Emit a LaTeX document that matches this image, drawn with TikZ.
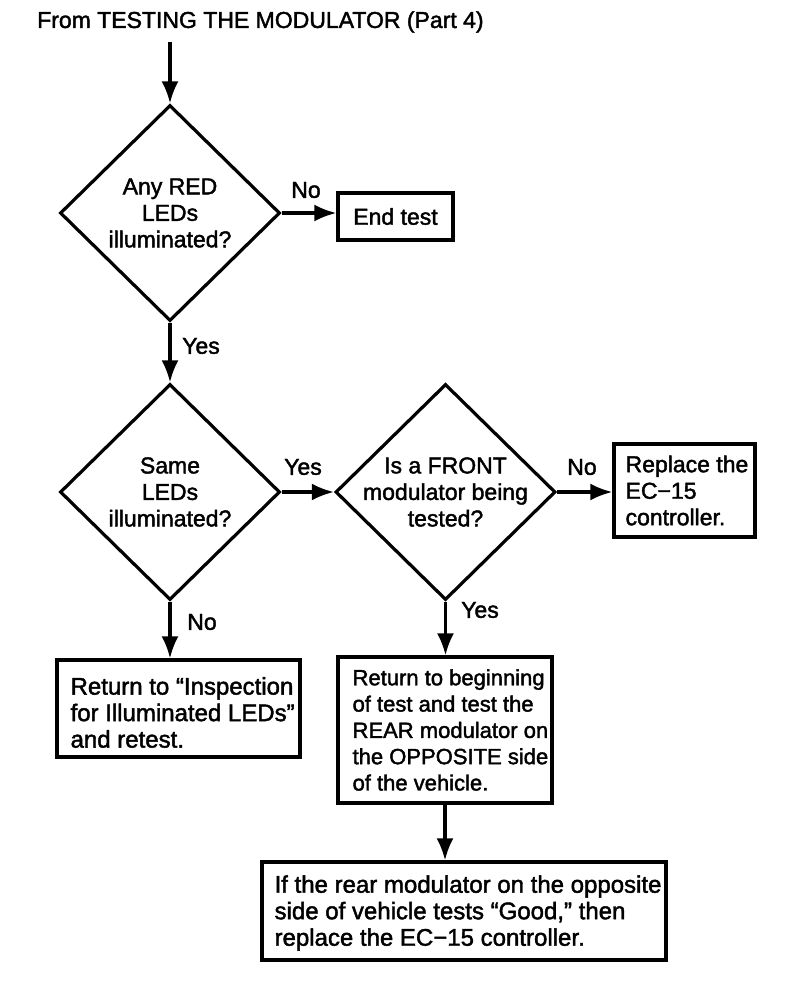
\documentclass[tikz,border=0pt]{standalone}
\usepackage{fontspec}
\setmainfont{Liberation Sans}[FakeBold=1.8]
\usetikzlibrary{shapes.geometric,arrows.meta}
\begin{document}
\begin{tikzpicture}[x=1pt,y=-1pt,
  every node/.style={font=\fontsize{23}{26.5}\selectfont},
  dia/.style={diamond, draw, line width=3.2pt, minimum width=220pt, minimum height=216pt, inner sep=0pt},
  box/.style={rectangle, draw, line width=3.2pt, inner sep=0pt},
  txt/.style={align=center, inner sep=0pt},
  ltxt/.style={align=left, inner sep=0pt, anchor=west},
  arr/.style={line width=3.2pt, -{Latex[length=22pt,width=17pt]}},
  lbl/.style={inner sep=0pt}]
\useasboundingbox (0,0) rectangle (800,1005);

\node[lbl, anchor=west] (title) at (37,22) {From TESTING THE MODULATOR (Part 4)};
\coordinate (start) at (170,42);

% diamonds
\node[dia] (d1) at (170,213) {};
\node[txt] (t1) at (d1.center) {Any RED\\LEDs\\illuminated?};
\node[dia] (d2) at (170,492) {};
\node[txt] (t2) at (d2.center) {Same\\LEDs\\illuminated?};
\node[dia] (d3) at (445.5,492) {};
\node[txt] (t3) at (d3.center) {Is a FRONT\\modulator being\\tested?};

% boxes
\node[box, minimum width=115pt, minimum height=47pt] (end) at (395.5,216.5) {};
\node[txt] (tend) at (end.center) {End test};
\node[box, minimum width=141pt, minimum height=93pt] (rep) at (684.5,490.5) {};
\node[ltxt] (trep) at ([xshift=13pt]rep.west) {Replace the\\EC−15\\controller.};
\node[box, minimum width=243pt, minimum height=97pt] (ret) at (178.5,708.5) {};
\node[ltxt, font=\fontsize{24}{26.5}\selectfont] (tret) at ([xshift=15pt,yshift=-4pt]ret.west) {Return to “Inspection\\for Illuminated LEDs”\\and retest.};
\node[box, minimum width=214pt, minimum height=146pt] (beg) at (445,730) {};
\node[ltxt, font=\fontsize{22}{26.3}\selectfont] (tbeg) at ([xshift=16pt]beg.west) {Return to beginning\\of test and test the\\REAR modulator on\\the OPPOSITE side\\of the vehicle.};
\node[box, minimum width=404pt, minimum height=98pt] (fin) at (464,911) {};
\node[ltxt, font=\fontsize{24}{26.5}\selectfont] (tfin) at ([xshift=14pt,yshift=-2pt]fin.west) {If the rear modulator on the opposite\\side of vehicle tests “Good,” then\\replace the EC−15 controller.};

% connectors
\draw[arr] (start) -- (d1.north);
\draw[arr] (d1.east) -- (end.west |- d1.east);
\draw[arr] (d1.south) -- (d2.north);
\draw[arr] (d2.east) -- (d3.west);
\draw[arr] (d3.east) -- (rep.west |- d3.east);
\draw[arr] (d2.south) -- (ret.north -| d2.south);
\draw[arr] (d3.south) -- (beg.north -| d3.south);
\draw[arr] (beg.south) -- (fin.north -| beg.south);

% labels
\node[lbl] (l1) at (306,190) {No};
\node[lbl] (l2) at (201,346) {Yes};
\node[lbl] (l3) at (303,467) {Yes};
\node[lbl] (l4) at (582,467) {No};
\node[lbl] (l5) at (202,622) {No};
\node[lbl] (l6) at (480,610) {Yes};
\end{tikzpicture}
\end{document}
